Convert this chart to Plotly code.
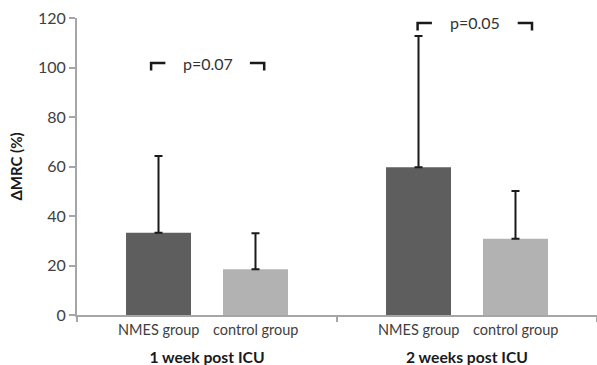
import plotly.graph_objects as go

groups = ["1 week post ICU", "2 weeks post ICU"]
series_names = ["NMES group", "control group"]
nmes_mean = [33.2, 59.7]
nmes_sd = [31.0, 53.0]
control_mean = [18.5, 30.8]
control_sd = [14.5, 19.3]
p_labels = ["p=0.07", "p=0.05"]
p_levels = [101.8, 118.0]

colors = ["#5e5e5e", "#b2b2b2"]
font_fam = "Lato, 'Open Sans', sans-serif"

fig = go.Figure()
for name, mean, sd, col in zip(series_names, [nmes_mean, control_mean], [nmes_sd, control_sd], colors):
    fig.add_trace(go.Bar(
        x=groups, y=mean, name=name, marker=dict(color=col, line=dict(width=0)),
        error_y=dict(type="data", symmetric=False, array=sd, arrayminus=[0] * len(sd),
                     color="#1a1a1a", thickness=2, width=4),
        showlegend=False,
    ))

fig.update_layout(
    width=597, height=365,
    margin=dict(l=77, r=0, t=18, b=50),
    paper_bgcolor="white", plot_bgcolor="white",
    barmode="group", bargap=0.254, bargroupgap=0.33,
    font=dict(family=font_fam, color="#404040"),
)
fig.update_xaxes(
    type="category", range=[-0.5, 1.5],
    showline=True, linecolor="#a6a6a6", linewidth=2,
    ticks="outside", tickson="boundaries", ticklen=5, tickcolor="#a6a6a6", tickwidth=2,
    tickfont=dict(size=15.7, color="#1a1a1a", weight="bold"),
    ticklabelstandoff=27,
    showgrid=False, zeroline=False,
)
fig.update_yaxes(
    range=[0, 120], dtick=20,
    showline=True, linecolor="#a6a6a6", linewidth=2,
    ticks="outside", ticklen=6, tickcolor="#a6a6a6", tickwidth=2,
    tickfont=dict(size=16, color="#404040"),
    showgrid=False, zeroline=False,
    title=dict(text="ΔMRC (%)", font=dict(size=15, color="#1a1a1a", weight="bold"), standoff=12),
)

# inner category labels under each bar
for gi, g in enumerate(groups):
    for si, s in enumerate(series_names):
        fig.add_annotation(
            x=g, y=0, xref="x", yref="y", text=s, showarrow=False,
            xshift=(-48.5 if si == 0 else 48.5), yshift=-4, yanchor="top",
            font=dict(size=14.5, color="#404040"),
        )

# significance brackets
bracket_offsets = [(-0.215, 0.22), (-0.19, 0.25)]
for gi, (lbl, lev, (lo, hi)) in enumerate(zip(p_labels, p_levels, bracket_offsets)):
    drop = 3.0
    seg = 0.055
    xl, xr = gi + lo, gi + hi
    fig.add_shape(type="path", xref="x", yref="y",
                  path=f"M {xl} {lev - drop} L {xl} {lev} L {xl + seg} {lev}",
                  line=dict(color="#1a1a1a", width=2.5))
    fig.add_shape(type="path", xref="x", yref="y",
                  path=f"M {xr - seg} {lev} L {xr} {lev} L {xr} {lev - drop}",
                  line=dict(color="#1a1a1a", width=2.5))
    fig.add_annotation(x=(xl + xr) / 2, y=lev, xref="x", yref="y", text=lbl,
                       showarrow=False, font=dict(size=16, color="#333333"))

fig.write_html("out.html")
